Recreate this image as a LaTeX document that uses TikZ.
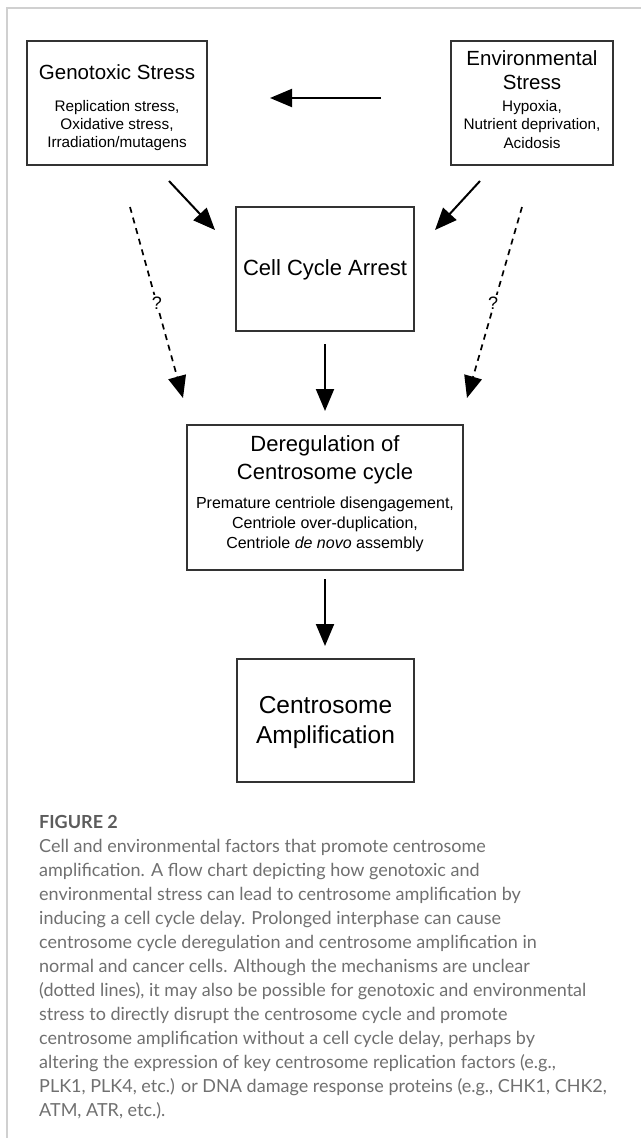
\documentclass[tikz,border=0pt]{standalone}
\usepackage{fontspec}
\setmainfont{Liberation Sans}
\newfontfamily\capfont{Lato}
\usetikzlibrary{arrows.meta}
\definecolor{boxline}{HTML}{333333}
\definecolor{frameline}{HTML}{D0D0D0}
\definecolor{captext}{HTML}{707070}
\definecolor{caphead}{HTML}{5C5C5C}
\newcommand\fsz[1]{\fontsize{#1}{#1}\selectfont}
\begin{document}
\begin{tikzpicture}[x=1pt,y=-1pt,
  box/.style={draw=boxline, line width=1.2pt, inner sep=0pt},
  ttl/.style={anchor=base, inner sep=0pt, font=\fsz{20.5}},
  sub/.style={anchor=base, inner sep=0pt, font=\fsz{15.3}},
  arr/.style={-{Triangle[length=22pt,width=18pt]}, line width=2pt, black},
  darr/.style={arr, line width=1.7pt, dash pattern=on 6pt off 5pt},
  qlab/.style={fill=white, inner sep=1.5pt},
  capl/.style={anchor=base west, inner sep=0pt, text=captext, font=\capfont\fsz{18}},
  caph/.style={anchor=base west, inner sep=0pt, text=caphead, font=\capfont\bfseries\fsz{18}}]
\useasboundingbox (0,0) rectangle (641,1138);
\fill[white] (0,0) rectangle (641,1138);
\draw[frameline, line width=1.5pt] (7,1138) -- (7,8) -- (641,8);

% boxes
\node[box, minimum width=180pt, minimum height=124pt] (gen) at (117,103) {};
\node[box, minimum width=162pt, minimum height=124pt] (env) at (532,103) {};
\node[box, minimum width=178pt, minimum height=124pt] (cca) at (325,269) {};
\node[box, minimum width=276pt, minimum height=145pt] (der) at (325,497.5) {};
\node[box, minimum width=177pt, minimum height=123pt] (amp) at (325.5,720.5) {};

% texts
\node[ttl] (gen1) at (117,79) {Genotoxic Stress};
\node[sub] (gen2) at (117,111) {Replication stress,};
\node[sub] (gen3) at (117,129) {Oxidative stress,};
\node[sub] (gen4) at (117,147) {Irradiation/mutagens};

\node[ttl] (env1) at (532,65) {Environmental};
\node[ttl] (env2) at (532,89) {Stress};
\node[sub] (env3) at (532,111) {Hypoxia,};
\node[sub] (env4) at (532,129) {Nutrient deprivation,};
\node[sub] (env5) at (532,148) {Acidosis};

\node[ttl, font=\fsz{22}] (cca1) at (325,275) {Cell Cycle Arrest};

\node[ttl, font=\fsz{22}] (der1) at (325,451) {Deregulation of};
\node[ttl, font=\fsz{22}] (der2) at (325,479) {Centrosome cycle};
\node[sub, font=\fsz{16}] (der3) at (325,508) {Premature centriole disengagement,};
\node[sub, font=\fsz{16}] (der4) at (325,528) {Centriole over-duplication,};
\node[sub, font=\fsz{16}] (der5) at (325,548) {Centriole \textit{de novo} assembly};

\node[ttl, font=\fsz{24.5}] (amp1) at (325.5,713) {Centrosome};
\node[ttl, font=\fsz{24.5}] (amp2) at (325.5,743) {Amplification};

% arrow end points
\coordinate (h1) at (381,98);   \coordinate (h2) at (270,98);
\coordinate (g1) at (169,181);  \coordinate (g2) at (215,230);
\coordinate (e1) at (480,181);  \coordinate (e2) at (435,230);
\coordinate (dl1) at (130,207); \coordinate (dl2) at (183,398);
\coordinate (dr1) at (522,207); \coordinate (dr2) at (467,398);
\coordinate (c1) at (325,344);  \coordinate (c2) at (325,411);
\coordinate (d1) at (325,579);  \coordinate (d2) at (325,646);

\draw[arr] (h1) -- (h2);
\draw[arr] (g1) -- (g2);
\draw[arr] (e1) -- (e2);
\draw[darr] (dl1) -- (dl2);
\draw[darr] (dr1) -- (dr2);
\draw[arr] (c1) -- (c2);
\draw[arr] (d1) -- (d2);

\node[qlab] (ql) at (157,303) {\fsz{18}?};
\node[qlab] (qr) at (493,303) {\fsz{18}?};

% caption
\node[caph] (fig) at (39,828) {FIGURE 2};
\node[capl] (l1) at (39,852) {Cell and environmental factors that promote centrosome};
\node[capl] (l2) at (39,876) {amplification. A flow chart depicting how genotoxic and};
\node[capl] (l3) at (39,900) {environmental stress can lead to centrosome amplification by};
\node[capl] (l4) at (39,924) {inducing a cell cycle delay. Prolonged interphase can cause};
\node[capl] (l5) at (39,948) {centrosome cycle deregulation and centrosome amplification in};
\node[capl] (l6) at (39,972) {normal and cancer cells. Although the mechanisms are unclear};
\node[capl] (l7) at (39,996) {(dotted lines), it may also be possible for genotoxic and environmental};
\node[capl] (l8) at (39,1020) {stress to directly disrupt the centrosome cycle and promote};
\node[capl] (l9) at (39,1044) {centrosome amplification without a cell cycle delay, perhaps by};
\node[capl] (l10) at (39,1068) {altering the expression of key centrosome replication factors (e.g.,};
\node[capl] (l11) at (39,1092) {PLK1, PLK4, etc.) or DNA damage response proteins (e.g., CHK1, CHK2,};
\node[capl] (l12) at (39,1116) {ATM, ATR, etc.).};
\end{tikzpicture}
\end{document}
